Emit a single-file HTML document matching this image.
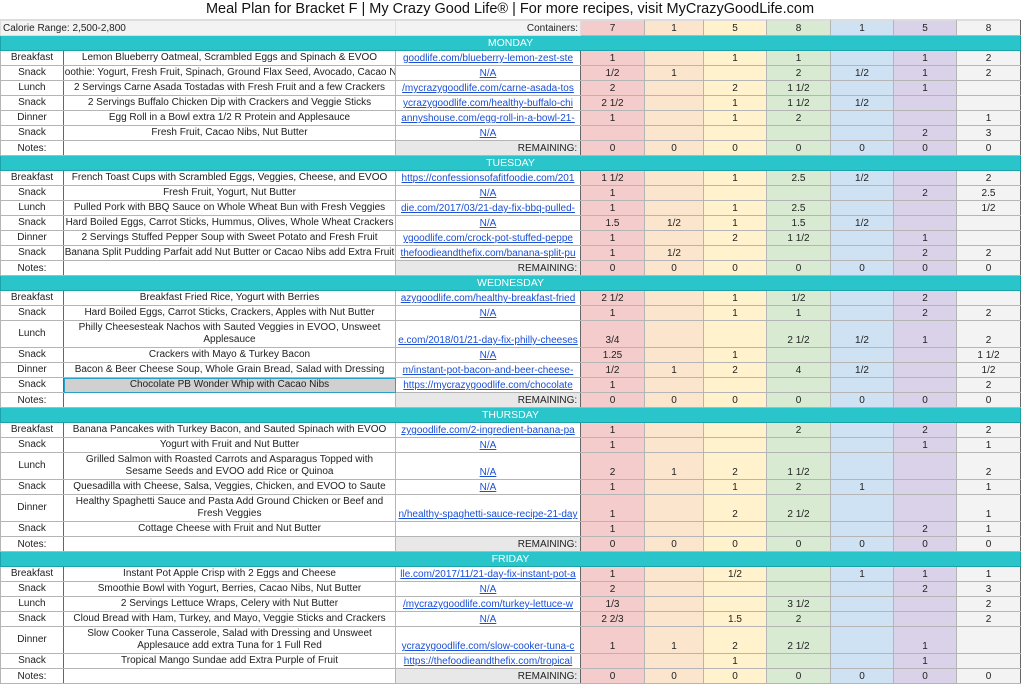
<!DOCTYPE html>
<html><head><meta charset="utf-8"><style>
body{margin:0;width:1024px;height:686px;overflow:hidden;background:#fff;font-family:"Liberation Sans",sans-serif;color:#222}
#wrap{position:absolute;left:0;top:0;width:1020px}
.title{height:19px;line-height:19px;text-align:center;font-size:14.5px;color:#111;border-bottom:1px solid #ddd}
table{border-collapse:collapse;table-layout:fixed;width:1020px;font-size:10px}
td{border:1px solid #b5b5b5;padding:0 2px;height:14px;line-height:13px;white-space:nowrap;overflow:hidden;text-align:center;vertical-align:bottom}
td.tall{height:26px}
td.a{border-right:1px solid #666}
td.c{border-left:1px solid #666;border-right:1px solid #666;padding:0}
.lk{display:flex;justify-content:center;color:#1a4fd6;text-decoration:underline;overflow:hidden}
td.m{vertical-align:middle;white-space:normal;line-height:12px}
td.m div{white-space:nowrap;display:flex;justify-content:center}
.day td{background:#29c5cb;color:#fff;border:1px solid #1aa4aa;font-size:10.5px}
.c0{background:#f4cccc}.c1{background:#fce5cd}.c2{background:#fff2cc}.c3{background:#d9ead3}.c4{background:#cfe2f3}.c5{background:#d9d2e9}.c6{background:#f3f3f3;border-right:1px solid #666}
.grey{background:#e8e8e8}
</style></head><body>
<div id="wrap">
<div class="title">Meal Plan for Bracket F | My Crazy Good Life® | For more recipes, visit MyCrazyGoodLife.com</div>
<table id="t">
<colgroup><col style="width:63px"><col style="width:332px"><col style="width:185px"><col style="width:64px"><col style="width:59px"><col style="width:63px"><col style="width:64px"><col style="width:63px"><col style="width:63px"><col style="width:64px"></colgroup>
<tbody id="tb"></tbody></table></div>
<script>
const containers=["7","1","5","8","1","5","8"];
const days=["MONDAY","TUESDAY","WEDNESDAY","THURSDAY","FRIDAY"];
const meals=[
[["Breakfast","Lemon Blueberry Oatmeal, Scrambled Eggs and Spinach & EVOO","goodlife.com/blueberry-lemon-zest-ste",["1","","1","1","","1","2"]],
["Snack","Smoothie: Yogurt, Fresh Fruit, Spinach, Ground Flax Seed, Avocado, Cacao Nibs","N/A",["1/2","1","","2","1/2","1","2"]],
["Lunch","2 Servings Carne Asada Tostadas with Fresh Fruit and a few Crackers","/mycrazygoodlife.com/carne-asada-tos",["2","","2","1 1/2","","1",""]],
["Snack","2 Servings Buffalo Chicken Dip with Crackers and Veggie Sticks","ycrazygoodlife.com/healthy-buffalo-chi",["2 1/2","","1","1 1/2","1/2","",""]],
["Dinner","Egg Roll in a Bowl extra 1/2 R Protein and Applesauce","annyshouse.com/egg-roll-in-a-bowl-21-",["1","","1","2","","","1"]],
["Snack","Fresh Fruit, Cacao Nibs, Nut Butter","N/A",["","","","","","2","3"]]],
[["Breakfast","French Toast Cups with Scrambled Eggs, Veggies, Cheese, and EVOO","https://confessionsofafitfoodie.com/201",["1 1/2","","1","2.5","1/2","","2"]],
["Snack","Fresh Fruit, Yogurt, Nut Butter","N/A",["1","","","","","2","2.5"]],
["Lunch","Pulled Pork with BBQ Sauce on Whole Wheat Bun with Fresh Veggies","die.com/2017/03/21-day-fix-bbq-pulled-",["1","","1","2.5","","","1/2"]],
["Snack","Hard Boiled Eggs, Carrot Sticks, Hummus, Olives, Whole Wheat Crackers","N/A",["1.5","1/2","1","1.5","1/2","",""]],
["Dinner","2 Servings Stuffed Pepper Soup with Sweet Potato and Fresh Fruit","ygoodlife.com/crock-pot-stuffed-peppe",["1","","2","1 1/2","","1",""]],
["Snack","Banana Split Pudding Parfait add Nut Butter or Cacao Nibs add Extra Fruit","thefoodieandthefix.com/banana-split-pu",["1","1/2","","","","2","2"]]],
[["Breakfast","Breakfast Fried Rice, Yogurt with Berries","azygoodlife.com/healthy-breakfast-fried",["2 1/2","","1","1/2","","2",""]],
["Snack","Hard Boiled Eggs, Carrot Sticks, Crackers, Apples with Nut Butter","N/A",["1","","1","1","","2","2"]],
["Lunch","Philly Cheesesteak Nachos with Sauted Veggies in EVOO, Unsweet|Applesauce","e.com/2018/01/21-day-fix-philly-cheeses",["3/4","","","2 1/2","1/2","1","2"],1],
["Snack","Crackers with Mayo & Turkey Bacon","N/A",["1.25","","1","","","","1 1/2"]],
["Dinner","Bacon & Beer Cheese Soup, Whole Grain Bread, Salad with Dressing","m/instant-pot-bacon-and-beer-cheese-",["1/2","1","2","4","1/2","","1/2"]],
["Snack","Chocolate PB Wonder Whip with Cacao Nibs","https://mycrazygoodlife.com/chocolate",["1","","","","","","2"],0,1]],
[["Breakfast","Banana Pancakes with Turkey Bacon, and Sauted Spinach with EVOO","zygoodlife.com/2-ingredient-banana-pa",["1","","","2","","2","2"]],
["Snack","Yogurt with Fruit and Nut Butter","N/A",["1","","","","","1","1"]],
["Lunch","Grilled Salmon with Roasted Carrots and Asparagus Topped with|Sesame Seeds and EVOO add Rice or Quinoa","N/A",["2","1","2","1 1/2","","","2"],1],
["Snack","Quesadilla with Cheese, Salsa, Veggies, Chicken, and EVOO to Saute","N/A",["1","","1","2","1","","1"]],
["Dinner","Healthy Spaghetti Sauce and Pasta Add Ground Chicken or Beef and|Fresh Veggies","n/healthy-spaghetti-sauce-recipe-21-day",["1","","2","2 1/2","","","1"],1],
["Snack","Cottage Cheese with Fruit and Nut Butter","",["1","","","","","2","1"]]],
[["Breakfast","Instant Pot Apple Crisp with 2 Eggs and Cheese","lle.com/2017/11/21-day-fix-instant-pot-a",["1","","1/2","","1","1","1"]],
["Snack","Smoothie Bowl with Yogurt, Berries, Cacao Nibs, Nut Butter","N/A",["2","","","","","2","3"]],
["Lunch","2 Servings Lettuce Wraps, Celery with Nut Butter","/mycrazygoodlife.com/turkey-lettuce-w",["1/3","","","3 1/2","","","2"]],
["Snack","Cloud Bread with Ham, Turkey, and Mayo, Veggie Sticks and Crackers","N/A",["2 2/3","","1.5","2","","","2"]],
["Dinner","Slow Cooker Tuna Casserole, Salad with Dressing and Unsweet|Applesauce add extra Tuna for 1 Full Red","ycrazygoodlife.com/slow-cooker-tuna-c",["1","1","2","2 1/2","","1",""],1],
["Snack","Tropical Mango Sundae add Extra Purple of Fruit","https://thefoodieandthefix.com/tropical",["","","1","","","1",""]]]
];
const remaining=["0","0","0","0","0","0","0"];
const tb=document.getElementById('tb');
function td(tr,cls,html,name){const c=document.createElement('td');if(cls)c.className=cls;c.innerHTML=html;


tr.appendChild(c);return c;}
function row(name){const r=document.createElement('tr');


tb.appendChild(r);return r;}
let r=row('containers-row');
let c=td(r,'grey','Calorie Range: 2,500-2,800','calorie-range');c.colSpan=2;c.style.textAlign='left';c.style.background='#f3f3f3';c.style.borderColor='#ddd';
c=td(r,'grey','Containers:','containers-label');c.style.textAlign='right';c.style.background='#f3f3f3';c.style.borderColor='#ddd';
containers.forEach((v,i)=>{const x=td(r,'c'+i,v,'container-total');x.style.borderTop='1px solid #ddd';});
days.forEach((d,di)=>{
 r=row('day-header');r.className='day';
 c=td(r,'',d,'day-header-'+d.toLowerCase());c.colSpan=10;
 meals[di].forEach(m=>{
  r=row('meal-row');
  const tall=m[4]?' tall':'';
  c=td(r,'a m'+tall,m[0],'meal-type');
  const lines=m[1].split('|').map(s=>'<div>'+s+'</div>').join('');
  c=td(r,'m'+tall,lines,'meal-description');
  if(m[5]){c.style.background='#d0d0d0';c.style.outline='1px solid #2aa0c8';c.style.outlineOffset='-1px';}
  c=td(r,'c'+tall,m[2]?'<span class="lk">'+m[2]+'</span>':'','recipe-link');
  m[3].forEach((v,i)=>td(r,'c'+i+tall,v,'container-value'));
 });
 r=row('notes-row');
 td(r,'a','Notes:','notes-label');
 td(r,'','','notes-input');
 c=td(r,'c grey','REMAINING:&nbsp;','remaining-label');c.style.textAlign='right';
 remaining.forEach((v,i)=>td(r,'c'+i,v,'remaining-value'));
});
</script>
</body></html>
